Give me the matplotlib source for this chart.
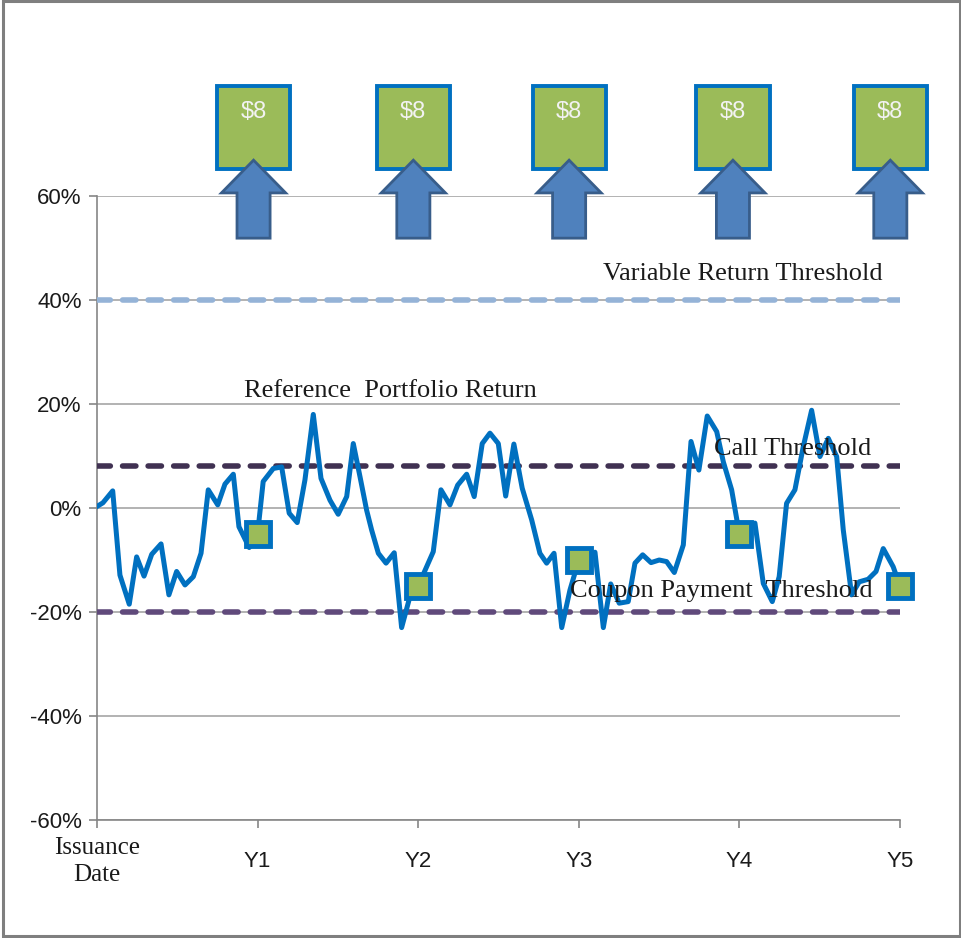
import matplotlib
matplotlib.use('Agg')
import matplotlib.pyplot as plt
from matplotlib.patches import Rectangle, Polygon

# reference portfolio return path (years since issuance, % return)
years = [0.0, 0.037, 0.098, 0.143, 0.201, 0.247, 0.293, 0.341, 0.399, 0.448,
         0.496, 0.548, 0.600, 0.648, 0.693, 0.752, 0.797, 0.849, 0.884, 0.948,
         1.0, 1.035, 1.098, 1.150, 1.197, 1.247, 1.295, 1.347, 1.395, 1.451,
         1.502, 1.555, 1.596, 1.638, 1.679, 1.710, 1.752, 1.800, 1.851, 1.897,
         1.949, 2.0, 2.094, 2.142, 2.198, 2.246, 2.302, 2.349, 2.399, 2.447,
         2.499, 2.545, 2.596, 2.648, 2.707, 2.758, 2.800, 2.846, 2.894, 2.945,
         3.0, 3.101, 3.153, 3.199, 3.252, 3.308, 3.350, 3.398, 3.450, 3.501,
         3.547, 3.595, 3.651, 3.699, 3.748, 3.800, 3.859, 3.900, 3.952, 4.0,
         4.097, 4.149, 4.205, 4.248, 4.294, 4.346, 4.398, 4.450, 4.502, 4.554,
         4.606, 4.647, 4.699, 4.746, 4.802, 4.851, 4.896, 4.958, 5.0]
returns = [0.3, 1.0, 3.3, -12.9, -18.5, -9.4, -13.1, -8.9, -6.9, -16.7,
           -12.2, -14.8, -13.2, -8.7, 3.5, 0.6, 4.6, 6.5, -3.6, -7.6,
           -5.0, 5.1, 7.6, 7.9, -1.0, -2.8, 5.4, 18.0, 5.7, 1.5,
           -1.2, 2.2, 12.4, 6.0, -0.4, -4.2, -8.7, -10.6, -8.6, -23.0,
           -17.0, -15.0, -8.4, 3.5, 0.6, 4.4, 6.5, 2.2, 12.4, 14.4,
           12.4, 2.3, 12.3, 3.8, -2.3, -8.7, -10.6, -8.7, -23.0, -15.8,
           -10.0, -8.5, -23.0, -14.6, -18.3, -18.0, -10.6, -9.0, -10.5, -10.0,
           -10.3, -12.4, -7.1, 12.8, 7.3, 17.7, 14.7, 8.9, 3.5, -5.0,
           -2.9, -14.5, -18.0, -13.2, 0.9, 3.5, 11.8, 18.8, 9.9, 13.4,
           9.9, -4.2, -16.7, -14.2, -13.7, -12.2, -7.8, -11.3, -15.0]

obs_years = [1, 2, 3, 4, 5]
obs_returns = [-5, -15, -10, -5, -15]

coupon_years = [0.975, 1.97, 2.94, 3.96, 4.94]
coupon_labels = ['$8', '$8', '$8', '$8', '$8']

variable_threshold = 40
call_threshold = 8
coupon_threshold = -20

x_labels = ['Issuance\nDate', 'Y1', 'Y2', 'Y3', 'Y4', 'Y5']
y_ticks = [-60, -40, -20, 0, 20, 40, 60]

fig = plt.figure(figsize=(9.62, 9.38), dpi=100)
ax = fig.add_axes([0.1008, 0.1258, 0.8347, 0.6652])

ax.set_xlim(0, 5)
ax.set_ylim(-60, 60)
ax.set_yticks(y_ticks)
ax.set_yticklabels([f'{v}%' for v in y_ticks], fontsize=16, family='Liberation Sans',
                   color='#1A1A1A')
ax.set_xticks(range(6))
ax.set_xticklabels(x_labels, fontsize=16, family=['Liberation Sans Narrow', 'Liberation Sans'],
                   va='center', color='#1A1A1A')
lab0 = ax.get_xticklabels()[0]
lab0.set_fontfamily('Liberation Serif')
lab0.set_fontsize(18)
lab0.set_linespacing(1.3)

ax.yaxis.grid(True, color='#A6A6A6', lw=1.2)
ax.set_axisbelow(True)
for s in ['top', 'right']:
    ax.spines[s].set_visible(False)
for s in ['left', 'bottom']:
    ax.spines[s].set_color('#868686')
    ax.spines[s].set_linewidth(1.2)
ax.tick_params(axis='both', direction='out', length=6, color='#868686', width=1.2)
ax.tick_params(axis='x', pad=24)
ax.tick_params(axis='y', pad=5)

# thresholds
dash = (0, (2.4, 2.2))
ax.axhline(variable_threshold, color='#95B3D7', lw=4, ls=dash,
           dash_capstyle='round', zorder=3)
ax.axhline(call_threshold, color='#403152', lw=4, ls=dash,
           dash_capstyle='round', zorder=3)
ax.axhline(coupon_threshold, color='#604A7B', lw=4, ls=dash,
           dash_capstyle='round', zorder=3)

ax.plot(years, returns, color='#0070C0', lw=3.6, zorder=4, solid_joinstyle='round')
ax.plot(obs_years, obs_returns, 's', ms=17, mfc='#9BBB59', mec='#0070C0', mew=3.5,
        zorder=5, clip_on=False)

serif = 'Liberation Serif'
ax.text(4.02, 45, 'Variable Return Threshold', ha='center', va='center',
        family=serif, fontsize=19, color='#1A1A1A', zorder=6)
ax.text(1.825, 22.6, 'Reference  Portfolio Return', ha='center', va='center',
        family=serif, fontsize=19, color='#1A1A1A', zorder=6)
ax.text(4.33, 11.3, 'Call Threshold', ha='center', va='center',
        family=serif, fontsize=19, color='#1A1A1A', zorder=6)
ax.text(3.89, -16, 'Coupon Payment  Threshold', ha='center', va='center',
        family=serif, fontsize=19, color='#1A1A1A', zorder=6)

# coupon boxes with arrows
for cx, lab in zip(coupon_years, coupon_labels):
    ax.add_patch(Rectangle((cx - 0.228, 65.2), 0.456, 16, fc='#9BBB59', ec='#0070C0',
                           lw=2.8, clip_on=False, zorder=6))
    ax.text(cx, 76.2, lab, color='#F2F2F2', fontsize=17, ha='center', va='center',
            family='Liberation Sans', clip_on=False, zorder=7)
    pts = [(cx, 66.9), (cx - 0.2, 60.6), (cx - 0.103, 60.6), (cx - 0.103, 51.9),
           (cx + 0.103, 51.9), (cx + 0.103, 60.6), (cx + 0.2, 60.6)]
    ax.add_patch(Polygon(pts, closed=True, fc='#4F81BD', ec='#385D8A', lw=2,
                         clip_on=False, zorder=8))

fig.add_artist(Rectangle((0.003, 0.002), 0.995, 0.997, transform=fig.transFigure,
                         fill=False, ec='#7F7F7F', lw=2.2))

fig.savefig('out.png', dpi=100, facecolor='white')
